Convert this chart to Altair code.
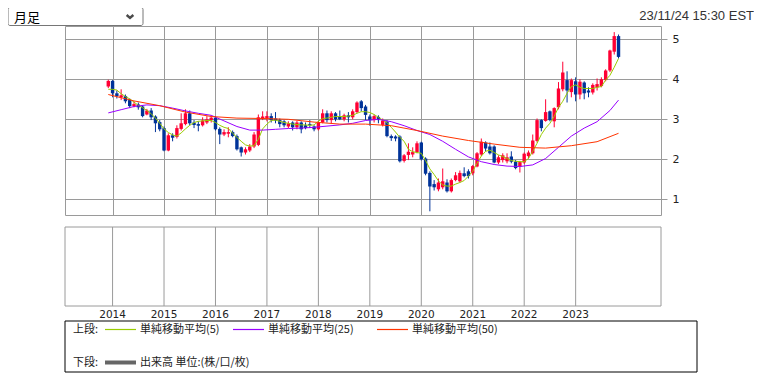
import altair as alt
import pandas as pd

# ---------------- data ----------------
_all = [f"{y}-{m:02d}" for y in range(2013, 2024) for m in range(1, 13)]
months = _all[_all.index("2013-12"): _all.index("2023-11") + 1]

open_ = [3.82,
         3.96, 3.65, 3.55, 3.58, 3.48, 3.33, 3.37, 3.32, 3.12, 3.22, 3.07, 2.93,
         2.78, 2.22, 2.60, 2.56, 2.76, 2.88, 3.15, 2.92, 2.88, 2.85, 2.92, 2.98,
         3.04, 2.76, 2.62, 2.64, 2.68, 2.58, 2.30, 2.17, 2.22, 2.32, 2.36, 3.02,
         3.02, 3.08, 3.02, 2.98, 2.95, 2.82, 2.92, 2.80, 2.92, 2.85, 2.88, 2.82,
         2.75, 2.92, 3.15, 2.98, 3.15, 3.08, 3.00, 3.10, 3.05, 3.18, 3.45, 3.32,
         3.07, 2.98, 3.06, 2.86, 2.94, 2.58, 2.57, 2.57, 1.96, 2.11, 2.12, 2.18,
         2.42, 2.02, 1.66, 1.38, 1.25, 1.30, 1.42, 1.20, 1.48, 1.45, 1.65, 1.70,
         1.65, 1.82, 2.12, 2.42, 2.32, 2.32, 1.92, 1.98, 1.95, 2.07, 1.94, 1.82,
         1.92, 2.08, 2.15, 2.46, 2.98, 2.96, 3.20, 2.95, 3.30, 3.75, 3.98, 3.68,
         3.95, 3.62, 3.92, 3.72, 3.67, 3.80, 3.83, 3.98, 4.22, 4.69, 5.08]
high = [3.99,
        3.98, 3.72, 3.75, 3.62, 3.52, 3.45, 3.42, 3.34, 3.26, 3.28, 3.10, 2.98,
        2.82, 2.65, 2.65, 2.85, 3.15, 3.25, 3.22, 2.98, 2.95, 3.05, 3.08, 3.10,
        3.08, 2.80, 2.75, 2.80, 2.72, 2.62, 2.32, 2.30, 2.38, 2.68, 3.12, 3.20,
        3.20, 3.15, 3.18, 3.02, 2.98, 2.95, 2.95, 2.96, 2.95, 2.92, 2.98, 2.85,
        2.95, 3.25, 3.22, 3.20, 3.18, 3.22, 3.14, 3.18, 3.25, 3.45, 3.48, 3.36,
        3.12, 3.12, 3.10, 3.02, 2.98, 2.62, 2.60, 2.60, 2.13, 2.40, 2.30, 2.45,
        2.44, 2.05, 1.70, 1.48, 1.52, 1.77, 1.50, 1.52, 1.68, 1.72, 1.80, 1.75,
        1.86, 2.18, 2.52, 2.45, 2.42, 2.35, 2.10, 2.15, 2.15, 2.20, 1.98, 1.96,
        2.17, 2.22, 2.62, 3.02, 3.00, 3.50, 3.22, 3.30, 3.93, 4.44, 4.20, 4.02,
        4.05, 4.00, 3.95, 3.80, 3.90, 4.02, 4.05, 4.25, 4.74, 5.18, 5.12]
low = [3.78,
       3.55, 3.52, 3.48, 3.40, 3.28, 3.30, 3.24, 3.05, 3.10, 2.98, 2.68, 2.70,
       2.20, 2.20, 2.45, 2.52, 2.72, 2.85, 2.85, 2.78, 2.70, 2.82, 2.88, 2.92,
       2.72, 2.38, 2.58, 2.55, 2.55, 2.22, 2.07, 2.12, 2.18, 2.28, 2.33, 2.98,
       2.95, 2.92, 2.90, 2.80, 2.80, 2.78, 2.72, 2.75, 2.65, 2.75, 2.78, 2.70,
       2.72, 2.90, 2.92, 2.90, 2.95, 2.98, 2.95, 2.92, 3.00, 3.15, 3.20, 2.98,
       2.84, 2.92, 2.90, 2.82, 2.55, 2.46, 2.45, 1.92, 1.92, 1.98, 2.05, 2.15,
       1.97, 1.60, 0.70, 1.22, 1.20, 1.25, 1.17, 1.17, 1.45, 1.42, 1.55, 1.52,
       1.60, 1.80, 2.08, 2.20, 2.12, 1.90, 1.88, 1.92, 1.90, 1.90, 1.75, 1.67,
       1.88, 2.02, 2.12, 2.42, 2.70, 2.94, 2.95, 2.80, 3.25, 3.70, 3.42, 3.55,
       3.45, 3.50, 3.50, 3.55, 3.62, 3.72, 3.80, 3.95, 4.18, 4.62, 4.52]
close = [3.96,
         3.65, 3.58, 3.60, 3.45, 3.33, 3.38, 3.30, 3.08, 3.22, 3.05, 2.90, 2.75,
         2.22, 2.60, 2.54, 2.78, 2.90, 3.15, 2.90, 2.86, 2.84, 2.97, 3.00, 3.04,
         2.75, 2.62, 2.68, 2.68, 2.58, 2.25, 2.17, 2.25, 2.32, 2.62, 3.05, 3.07,
         3.08, 2.98, 2.97, 2.88, 2.85, 2.90, 2.80, 2.92, 2.75, 2.78, 2.85, 2.75,
         2.92, 3.15, 2.98, 3.15, 3.00, 3.00, 3.10, 3.05, 3.20, 3.42, 3.28, 3.11,
         2.98, 3.08, 2.98, 2.97, 2.58, 2.53, 2.52, 1.95, 2.10, 2.19, 2.18, 2.40,
         2.00, 1.64, 1.32, 1.30, 1.42, 1.45, 1.20, 1.48, 1.60, 1.66, 1.58, 1.58,
         1.83, 2.15, 2.44, 2.27, 2.15, 1.92, 2.05, 2.10, 2.05, 1.94, 1.78, 1.93,
         2.14, 2.17, 2.47, 2.98, 2.78, 3.18, 2.98, 3.28, 3.77, 4.17, 3.72, 3.98,
         3.62, 3.94, 3.65, 3.67, 3.86, 3.88, 4.00, 4.22, 4.72, 5.08, 4.56]

ma5 = [3.75,
       3.75, 3.73, 3.64, 3.57, 3.51, 3.43, 3.35, 3.29, 3.22, 3.14, 3.03, 2.90,
       2.76, 2.67, 2.61, 2.58, 2.66, 2.76, 2.85, 2.92, 2.95, 2.96, 2.97, 2.97,
       2.92, 2.85, 2.80, 2.77, 2.65, 2.55, 2.45, 2.36, 2.33, 2.34, 2.50, 2.76,
       2.88, 2.97, 2.98, 2.95, 2.92, 2.90, 2.88, 2.87, 2.86, 2.86, 2.85, 2.86,
       2.95, 3.02, 3.03, 3.05, 3.07, 3.07, 3.07, 3.08, 3.10, 3.15, 3.19, 3.19,
       3.17, 3.12, 3.05, 2.98, 2.92, 2.80, 2.68, 2.55, 2.45, 2.25, 2.19, 2.17,
       2.15, 1.97, 1.76, 1.62, 1.46, 1.36, 1.33, 1.33, 1.38, 1.42, 1.47, 1.58,
       1.70, 1.90, 2.08, 2.20, 2.23, 2.17, 2.11, 2.07, 2.02, 1.97, 1.95, 1.94,
       1.94, 2.02, 2.20, 2.40, 2.62, 2.78, 2.90, 3.07, 3.30, 3.45, 3.65, 3.82,
       3.86, 3.80, 3.77, 3.77, 3.77, 3.80, 3.82, 3.98, 4.10, 4.30, 4.52]

ma25_months = ["2013-12", "2014-03", "2014-06", "2014-09", "2014-12", "2015-03", "2015-06",
               "2015-09", "2015-12", "2016-03", "2016-06", "2016-09", "2016-12", "2017-03",
               "2017-06", "2017-09", "2017-12", "2018-03", "2018-06", "2018-09", "2018-12",
               "2019-03", "2019-06", "2019-09", "2019-12", "2020-03", "2020-06", "2020-09",
               "2020-12", "2021-03", "2021-06", "2021-09", "2021-12", "2022-03", "2022-06",
               "2022-09", "2022-12", "2023-03", "2023-06", "2023-09", "2023-11"]
ma25 = [3.16, 3.24, 3.32, 3.36, 3.34, 3.28, 3.21, 3.15, 3.10, 2.96, 2.82, 2.73, 2.73, 2.75,
        2.77, 2.78, 2.80, 2.83, 2.86, 2.90, 2.97, 3.00, 2.94, 2.84, 2.72, 2.62, 2.45, 2.25,
        2.06, 1.94, 1.87, 1.83, 1.82, 1.86, 2.02, 2.30, 2.58, 2.78, 2.94, 3.22, 3.48]

ma50_months = ["2013-12", "2014-06", "2014-12", "2015-06", "2015-12", "2016-06", "2016-12",
               "2017-06", "2017-12", "2018-06", "2018-12", "2019-06", "2019-12", "2020-06",
               "2020-12", "2021-06", "2021-12", "2022-06", "2022-12", "2023-06", "2023-11"]
ma50 = [3.62, 3.46, 3.34, 3.18, 3.07, 3.03, 3.02, 3.00, 2.93, 2.88, 2.88, 2.84, 2.72, 2.58,
        2.47, 2.38, 2.30, 2.28, 2.34, 2.44, 2.65]

years = list(range(2014, 2024))
y_ticks = [1, 2, 3, 4, 5]

legend_top = ["単純移動平均(5)", "単純移動平均(25)", "単純移動平均(50)"]
legend_bottom = "出来高 単位:(株/口/枚)"
timestamp = "23/11/24 15:30 EST"
select_label = "月足"

# ---------------- styles ----------------
GRID = "#9a9a9a"
RED = "#ff0033"
BLUE = "#003399"
C_MA5 = "#99cc00"
C_MA25 = "#9900ff"
C_MA50 = "#ff3300"
W, H = 596, 189


def to_t(s):
    y, m = s.split("-")
    return int(y) + (int(m) - 1) / 12


candles = pd.DataFrame({"t": [to_t(m) for m in months], "o": open_, "h": high,
                        "l": low, "c": close})
candles["dir"] = ["up" if c >= o else "down" for o, c in zip(open_, close)]
d_ma5 = pd.DataFrame({"t": [to_t(m) for m in months], "v": ma5})
d_ma25 = pd.DataFrame({"t": [to_t(m) for m in ma25_months], "v": ma25})
d_ma50 = pd.DataFrame({"t": [to_t(m) for m in ma50_months], "v": ma50})
d_years = pd.DataFrame({"t": years, "label": [str(y) for y in years]})
one = pd.DataFrame({"a": [0]})

xs = alt.Scale(domain=[2013.1726, 2024.5618], nice=False, zero=False)
ys = alt.Scale(domain=[0.6075, 5.3325], nice=False, zero=False)
x_axis = alt.Axis(values=years, grid=True, labels=False, ticks=False, domain=False,
                  title=None, gridColor=GRID, gridOpacity=1)
y_axis = alt.Axis(orient="right", values=y_ticks, grid=True, domain=False, title=None,
                  gridColor=GRID, gridOpacity=1, tickColor=GRID, tickSize=6,
                  labelPadding=5, labelFont="DejaVu Sans", labelFontSize=11,
                  labelColor="#222222", format="d")


def X(f="t"):
    return alt.X(f"{f}:Q", scale=xs, axis=x_axis)


def Y(f):
    return alt.Y(f"{f}:Q", scale=ys, axis=y_axis)


color = alt.Color("dir:N", scale=alt.Scale(domain=["up", "down"], range=[RED, BLUE]),
                  legend=None)

wicks = alt.Chart(candles).mark_rule(strokeWidth=1).encode(
    x=X(), y=Y("l"), y2="h:Q", color=color)
bodies = alt.Chart(candles).mark_bar(size=3.4).encode(
    x=X(), y=Y("o"), y2="c:Q", color=color)
line5 = alt.Chart(d_ma5).mark_line(strokeWidth=1).encode(
    x=X(), y=Y("v"), color=alt.value(C_MA5))
line25 = alt.Chart(d_ma25).mark_line(strokeWidth=1).encode(
    x=X(), y=Y("v"), color=alt.value(C_MA25))
line50 = alt.Chart(d_ma50).mark_line(strokeWidth=1).encode(
    x=X(), y=Y("v"), color=alt.value(C_MA50))

# lower (volume) panel
low_panel = alt.Chart(one).mark_rect(fill="white", stroke=GRID, strokeWidth=1).encode(
    x=alt.value(0), x2=alt.value(W), y=alt.value(201), y2=alt.value(280))
low_grid = alt.Chart(d_years).mark_rule(strokeWidth=1).encode(
    x=X(), y=alt.value(201), y2=alt.value(280), color=alt.value(GRID))
year_lbl = alt.Chart(d_years).mark_text(font="DejaVu Sans", fontSize=10.5,
                                        baseline="middle").encode(
    x=X(), y=alt.value(288.5), text="label:N", color=alt.value("#222222"))

# legend box
leg_box = alt.Chart(one).mark_rect(fill="white", stroke="black", strokeWidth=1).encode(
    x=alt.value(0), x2=alt.value(632), y=alt.value(295), y2=alt.value(346))


def txt(s, x, y, size=11, font="Noto Sans CJK JP", col="#222222", align="left"):
    return alt.Chart(one).mark_text(text=s, font=font, fontSize=size,
                                    align=align, baseline="middle").encode(
        x=alt.value(x), y=alt.value(y), color=alt.value(col))


def seg(x1, x2, y, col, w=1.0):
    return alt.Chart(one).mark_rule(strokeWidth=w).encode(
        x=alt.value(x1), x2=alt.value(x2), y=alt.value(y), color=alt.value(col))


legend_layers = [
    leg_box,
    txt("上段:", 8, 303.5),
    seg(40, 71, 303.5, C_MA5, 1.2), txt(legend_top[0], 75, 303.5),
    seg(168, 199, 303.5, C_MA25, 1.2), txt(legend_top[1], 203, 303.5),
    seg(312, 343, 303.5, C_MA50, 1.2), txt(legend_top[2], 347, 303.5),
    txt("下段:", 8, 336.5),
    seg(40, 71, 336.5, "#666666", 4), txt(legend_bottom, 75, 336.5),
]

# select box + timestamp
sel_box = alt.Chart(one).mark_rect(fill="white", stroke="#767676", strokeWidth=1,
                                   cornerRadius=2).encode(
    x=alt.value(-57), x2=alt.value(78), y=alt.value(-18.5), y2=alt.value(-0.5))
sel_txt = txt(select_label, -51, -8.5, size=13, col="#000000")
chev = alt.Chart(one).mark_point(shape="M-1,-0.45L0,0.45L1,-0.45", filled=False,
                                 strokeWidth=2.4, size=45).encode(
    x=alt.value(65), y=alt.value(-9.5), color=alt.value("#000000"))
stamp = txt(timestamp, 689, -10.5, size=13, font="Liberation Sans", col="#333333",
            align="right")

chart = alt.layer(
    wicks, bodies, line5, line25, line50,
    low_panel, low_grid, year_lbl,
    *legend_layers,
    sel_box, sel_txt, chev, stamp,
).properties(
    width=W, height=H,
    autosize=alt.AutoSizeParams(type="none"),
    padding={"left": 57, "top": 18, "right": 93, "bottom": 159},
    background="white",
).configure_view(stroke=GRID, strokeWidth=1)

chart.save("out.html", embed_options={"renderer": "svg", "actions": False})
